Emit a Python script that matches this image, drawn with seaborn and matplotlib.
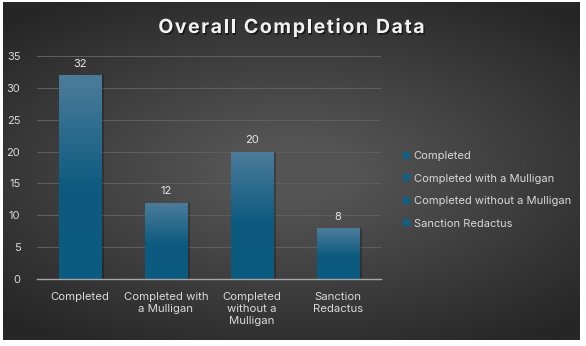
import numpy as np
import matplotlib
matplotlib.use("Agg")
import matplotlib.pyplot as plt
import matplotlib.patheffects as pe
from matplotlib.colors import LinearSegmentedColormap
from matplotlib.patches import Patch
import seaborn as sns

categories = ["Completed", "Completed with a Mulligan",
              "Completed without a Mulligan", "Sanction Redactus"]
tick_labels = ["Completed", "Completed with\na Mulligan",
               "Completed\nwithout a\nMulligan", "Sanction\nRedactus"]
counts = [32, 12, 20, 8]
title = "Overall Completion Data"

sns.set_theme(style="dark")
plt.rcParams["font.family"] = ["Inter", "DejaVu Sans"]

W, H = 586, 346
fig = plt.figure(figsize=(W / 100, H / 100), dpi=100, facecolor="white")

# dark radial-gradient backdrop
bg = fig.add_axes([3 / W, 6 / H, 577 / W, 338 / H])
bg.set_axis_off()
yy, xx = np.mgrid[-1:1:300j, -1:1:500j]
r = np.sqrt((xx * 0.95) ** 2 + (yy * 1.1) ** 2)
shade = np.clip(1 - r / 1.35, 0, 1)
bg_cmap = LinearSegmentedColormap.from_list("bg", ["#262626", "#545454"])
bg.imshow(shade, cmap=bg_cmap, aspect="auto", extent=[0, 1, 0, 1],
          vmin=0, vmax=0.85)
bg.set_xlim(0, 1)
bg.set_ylim(0, 1)

ax = fig.add_axes([37 / W, 67 / H, 344 / W, 223 / H])
ax.patch.set_alpha(0)

sns.barplot(x=categories, y=counts, color="#0b5a80", width=0.5, ax=ax,
            saturation=1, linewidth=0, edgecolor="none")

ax.set_ylim(0, 35)
ax.set_xlim(-0.5, 3.5)
ax.set_yticks(range(0, 36, 5))
ax.grid(axis="y", color="#5e5e5e", linewidth=0.8)
ax.grid(axis="x", visible=False)
ax.set_axisbelow(True)
for s in ["top", "right", "left"]:
    ax.spines[s].set_visible(False)
ax.spines["bottom"].set_color("#a6a6a6")
ax.spines["bottom"].set_linewidth(1.0)

ax.set_xticks(range(len(categories)))
ax.set_xticklabels(tick_labels, color="#d9d9d9", fontsize=8.2,
                   linespacing=1.3)
ax.set_xticks(np.arange(-0.5, len(categories), 1.0), minor=True)
ax.tick_params(axis="x", which="major", length=0, pad=9)
ax.tick_params(axis="x", which="minor", length=4, width=0.9,
               color="#a6a6a6", direction="out")
ax.tick_params(axis="y", length=0, pad=12, labelcolor="#d9d9d9",
               labelsize=8)
ax.set_xlabel("")
ax.set_ylabel("")

# vertical gradient fill on each bar
bar_cmap = LinearSegmentedColormap.from_list(
    "bar", [(0, "#0b5a80"), (0.45, "#0d5b80"), (1, "#4d7c9b")])
grad = np.linspace(0, 1, 256).reshape(-1, 1)
for bar in list(ax.patches):
    x0, w, h = bar.get_x(), bar.get_width(), bar.get_height()
    # soft shadow to the right
    ax.bar(x0 + w / 2 + 0.025, h, width=w, color="black", alpha=0.25,
           zorder=bar.get_zorder() - 0.1, linewidth=0)
    im = ax.imshow(grad, cmap=bar_cmap, aspect="auto", origin="lower",
                   extent=[x0, x0 + w, 0, h], zorder=bar.get_zorder() + 0.1)
    im.set_clip_path(bar)
ax.set_xlim(-0.5, 3.5)
ax.set_ylim(0, 35)

for i, v in enumerate(counts):
    ax.text(i, v + 1.0, str(v), ha="center", va="bottom",
            color="#e6e6e6", fontsize=8)

handles = [Patch(facecolor="#0f5f87", edgecolor="none") for _ in categories]
leg = fig.legend(handles, categories, loc="center left",
                 bbox_to_anchor=(393 / W, 1 - 190 / H), frameon=False,
                 handlelength=0.6, handleheight=0.6, handletextpad=0.35,
                 labelspacing=1.12, fontsize=8, labelcolor="#d9d9d9")

# letter-spaced title with a soft drop shadow
title_kw = dict(fontsize=14, fontweight="bold", color="#f2f2f2",
                va="center", ha="left")
renderer = fig.canvas.get_renderer()


def text_width(s):
    t = fig.text(0, 0, s + "|", **title_kw)
    w_all = t.get_window_extent(renderer).width
    t.set_text("|")
    w_bar = t.get_window_extent(renderer).width
    t.remove()
    return w_all - w_bar


spacing = 1.6  # extra pixels between letters
full = text_width(title) + spacing * (len(title) - 1)
x_start = 291.5 - full / 2
y_title = 1 - 28 / H
shadow = [pe.withSimplePatchShadow(offset=(1.0, -1.2),
                                   shadow_rgbFace="black", alpha=0.55)]
for i, ch in enumerate(title):
    if ch == " ":
        continue
    px = x_start + text_width(title[:i]) + spacing * i
    fig.text(px / W, y_title, ch, path_effects=shadow, **title_kw)

fig.savefig("out.png", dpi=100, facecolor="white")
